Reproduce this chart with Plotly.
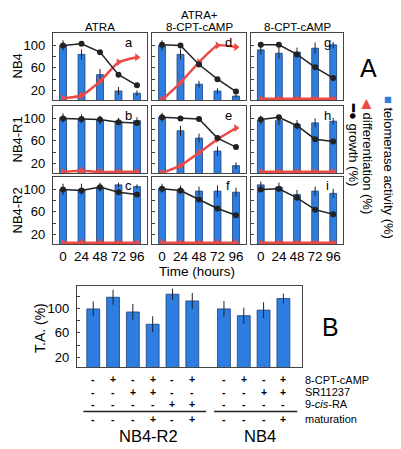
import plotly.graph_objects as go

# The page body has an 8px margin, so the figure is sized to fill the remaining area.
OFF = 8
W, H = 401 - OFF, 449 - OFF
FONT = "Arial, Liberation Sans, sans-serif"
BLUE = "#2d7ee0"
BAR_EDGE = "#1d3f78"
RED = "#ec4a44"
BLACK = "#222222"
FRAME = "#444444"

time = [0, 24, 48, 72, 96]

# ---- panel A data (telomerase activity %, error, growth %, differentiation %)
# NB4
ta_a = [100, 84, 48, 19, 15]
err_a = [9, 9, 10, 7, 5]
growth_a = [100, 103, 88, 48, 29]
diff_a = [6, 11, 36, 70, 79]

ta_d = [100, 84, 31, 19, 10]
err_d = [9, 9, 6, 5, 3]
growth_d = [101, 100, 66, 40, 18]
diff_d = [3, 34, 70, 100, 97]

ta_g = [92, 86, 88, 95, 101]
err_g = [8, 10, 8, 10, 5]
growth_g = [101, 101, 84, 61, 42]
diff_g = [5, 5, 5, 5, 5]

# NB4-R1
ta_b = [101, 99, 97, 95, 96]
err_b = [8, 8, 8, 6, 6]
growth_b = [100, 99, 98, 93, 92]
diff_b = [5, 7, 5, 5, 5]

ta_e = [102, 78, 65, 42, 16]
err_e = [8, 9, 8, 8, 6]
growth_e = [102, 100, 99, 65, 49]
diff_e = [3, 16, 39, 63, 83]

ta_h = [97, 96, 89, 92, 95]
err_h = [8, 8, 8, 8, 6]
growth_h = [98, 102, 87, 63, 59]
diff_h = [5, 5, 5, 5, 5]

# NB4-R2
ta_c = [100, 100, 104, 108, 105]
err_c = [10, 10, 8, 4, 4]
growth_c = [100, 98, 104, 95, 91]
diff_c = [5, 5, 5, 5, 5]

ta_f = [102, 99, 97, 97, 95]
err_f = [8, 8, 8, 10, 8]
growth_f = [101, 98, 82, 66, 54]
diff_f = [5, 5, 5, 5, 5]

ta_i = [108, 104, 91, 97, 93]
err_i = [6, 8, 8, 8, 8]
growth_i = [100, 101, 85, 64, 56]
diff_i = [5, 5, 5, 5, 5]

col_titles = ["ATRA", "8-CPT-cAMP", "8-CPT-cAMP"]
row_titles = ["NB4", "NB4-R1", "NB4-R2"]
y_tickvals = [20, 40, 60, 80, 100]
y_ticktext = ["20", "", "60", "", "100"]

# ---- panel B data
b_groups = ["NB4-R2"] * 6 + ["NB4"] * 4
b_ta = [99, 118, 94, 74, 123, 112, 99, 88, 97, 116]
b_err = [12, 12, 13, 13, 9, 13, 13, 13, 13, 8]
b_camp = ["-", "+", "-", "+", "-", "+", "-", "+", "-", "+"]
b_sr = ["-", "-", "+", "+", "-", "-", "-", "-", "+", "+"]
b_9cis = ["-", "-", "-", "-", "+", "+", "-", "-", "-", "-"]
b_mat = ["-", "-", "-", "+", "-", "+", "-", "-", "-", "+"]
b_row_labels = ["8-CPT-cAMP", "SR11237", "9-<i>cis</i>-RA", "maturation"]
b_yvals = [20, 40, 60, 80, 100, 120]
b_ytext = ["20", "", "60", "", "100", ""]


def px(x):
    return (x - OFF) / W


def py(y):
    return 1 - (y - OFF) / H


def label(x, y, text, size, **kw):
    d = dict(xref="paper", yref="paper", x=px(x), y=py(y), text=text, showarrow=False,
             xanchor="center", yanchor="middle", font=dict(size=size, family=FONT, color="black"))
    d.update(kw)
    return d


panels = [
    [(ta_a, err_a, growth_a, diff_a, "a"), (ta_d, err_d, growth_d, diff_d, "d"), (ta_g, err_g, growth_g, diff_g, "g")],
    [(ta_b, err_b, growth_b, diff_b, "b"), (ta_e, err_e, growth_e, diff_e, "e"), (ta_h, err_h, growth_h, diff_h, "h")],
    [(ta_c, err_c, growth_c, diff_c, "c"), (ta_f, err_f, growth_f, diff_f, "f"), (ta_i, err_i, growth_i, diff_i, "i")],
]

col_px = [(53, 147), (152, 246), (251, 343)]
row_px = [(33, 100), (106, 173), (177, 244)]

fig = go.Figure()
layout = dict(
    width=W, height=H, margin=dict(l=0, r=0, t=0, b=0),
    paper_bgcolor="white", plot_bgcolor="white", showlegend=False,
    font=dict(family=FONT, color="black"),
)
annotations = []
shapes = []

k = 0
for r in range(3):
    for c in range(3):
        k += 1
        ta, err, gr, df, letter = panels[r][c]
        xa, ya = f"x{k}", f"y{k}"
        fig.add_trace(go.Bar(
            x=time, y=ta, width=9, xaxis=xa, yaxis=ya,
            marker=dict(color=BLUE, line=dict(color=BAR_EDGE, width=0.8)),
            error_y=dict(type="data", array=err, color=BLACK, thickness=1, width=0),
        ))
        fig.add_trace(go.Scatter(
            x=time, y=df, xaxis=xa, yaxis=ya, mode="lines+markers",
            line=dict(color=RED, width=2.5, shape="spline", smoothing=0.5),
            marker=dict(symbol="triangle-right", size=7, color=RED),
        ))
        fig.add_trace(go.Scatter(
            x=time, y=gr, xaxis=xa, yaxis=ya, mode="lines+markers",
            line=dict(color=BLACK, width=1.5),
            marker=dict(symbol="circle", size=6, color=BLACK),
        ))
        x0, x1 = col_px[c]
        y0, y1 = row_px[r]
        layout[f"xaxis{k}"] = dict(
            domain=[px(x0), px(x1)], range=[-13, 109], anchor=ya,
            tickvals=time, showticklabels=(r == 2), ticks="",
            tickfont=dict(size=13.5, family=FONT),
            showline=True, mirror=True, linecolor=FRAME, linewidth=1.3,
            showgrid=False, zeroline=False, fixedrange=True,
        )
        layout[f"yaxis{k}"] = dict(
            domain=[py(y1), py(y0)], range=[3, 122], anchor=xa,
            tickvals=y_tickvals, ticktext=y_ticktext,
            showticklabels=(c == 0), ticks="inside", ticklen=3, tickcolor=FRAME,
            tickfont=dict(size=13, family=FONT), ticklabelstandoff=4,
            showline=True, mirror=True, linecolor=FRAME, linewidth=1.3,
            showgrid=False, zeroline=False, fixedrange=True,
        )
        annotations.append(label(x0 + 76, y0 + 9, letter, 13))

# column and row titles
annotations.append(label(199, 15, "ATRA+", 11.5))
for c, t in enumerate(col_titles):
    cx = (col_px[c][0] + col_px[c][1]) / 2
    annotations.append(label(cx, 27, t, 11.5))
for r, t in enumerate(row_titles):
    cy = (row_px[r][0] + row_px[r][1]) / 2
    annotations.append(label(17, cy, t, 13, textangle=-90))
annotations.append(label(197, 271, "Time (hours)", 13.5))

# right legend
annotations.append(label(368, 68, "A", 25))
annotations.append(label(388, 167, f"<span style='color:{BLUE}'>■</span> telomerase activity (%)", 13, textangle=90))
annotations.append(label(368, 156, f"<span style='color:{RED}'>◀</span> differentiation (%)", 13, textangle=90))
annotations.append(label(354, 144, "<b>━</b>● growth (%)", 13, textangle=90))

# ---- panel B
group_names = []
for g in b_groups:
    if g not in group_names:
        group_names.append(g)
b_x = []
for i, g in enumerate(b_groups):
    b_x.append(i + 0.6 * group_names.index(g))

fig.add_trace(go.Bar(
    x=b_x, y=b_ta, width=0.65, xaxis="x10", yaxis="y10",
    marker=dict(color=BLUE, line=dict(color=BAR_EDGE, width=0.8)),
    error_y=dict(type="data", array=b_err, color=BLACK, thickness=1, width=0),
))
layout["xaxis10"] = dict(
    domain=[px(77), px(302)], range=[-0.82, 10.54], anchor="y10",
    showticklabels=False, ticks="", showline=True, mirror=True,
    linecolor=FRAME, linewidth=1.3, showgrid=False, zeroline=False, fixedrange=True,
)
layout["yaxis10"] = dict(
    domain=[py(367), py(286)], range=[4.2, 136.4], anchor="x10",
    tickvals=b_yvals, ticktext=b_ytext, ticks="inside", ticklen=3, tickcolor=FRAME,
    tickfont=dict(size=13, family=FONT), ticklabelstandoff=4,
    showline=True, mirror=True, linecolor=FRAME, linewidth=1.3,
    showgrid=False, zeroline=False, fixedrange=True,
)
annotations.append(label(40, 328, "T.A. (%)", 14, textangle=-90))
annotations.append(label(330, 327, "B", 25))

sign_rows = [b_camp, b_sr, b_9cis, b_mat]
sign_y = [379, 391.5, 404, 419]
for rows, yy in zip(sign_rows, sign_y):
    for xv, s in zip(b_x, rows):
        annotations.append(dict(xref="x10", yref="paper", x=xv, y=py(yy), text=f"<b>{s}</b>",
                                xanchor="center", yanchor="middle",
                                showarrow=False, font=dict(size=10.5, family=FONT, color="black")))
for lab, yy in zip(b_row_labels, [380, 392, 404, 419]):
    annotations.append(label(303, yy, lab, 11, xanchor="left"))
for g in group_names:
    xs = [b_x[i] for i in range(len(b_groups)) if b_groups[i] == g]
    shapes.append(dict(type="line", xref="x10", yref="paper",
                       x0=min(xs) - 0.5, x1=max(xs) + 0.7, y0=py(411.5), y1=py(411.5),
                       line=dict(color=BLACK, width=1.3)))
    annotations.append(dict(xref="x10", yref="paper", x=(min(xs) + max(xs)) / 2 + 0.3, y=py(436),
                            text=g, xanchor="center", yanchor="middle", showarrow=False,
                            font=dict(size=16.5, family=FONT, color="black")))

layout["annotations"] = annotations
layout["shapes"] = shapes
fig.update_layout(**layout)
fig.write_html("out.html")
